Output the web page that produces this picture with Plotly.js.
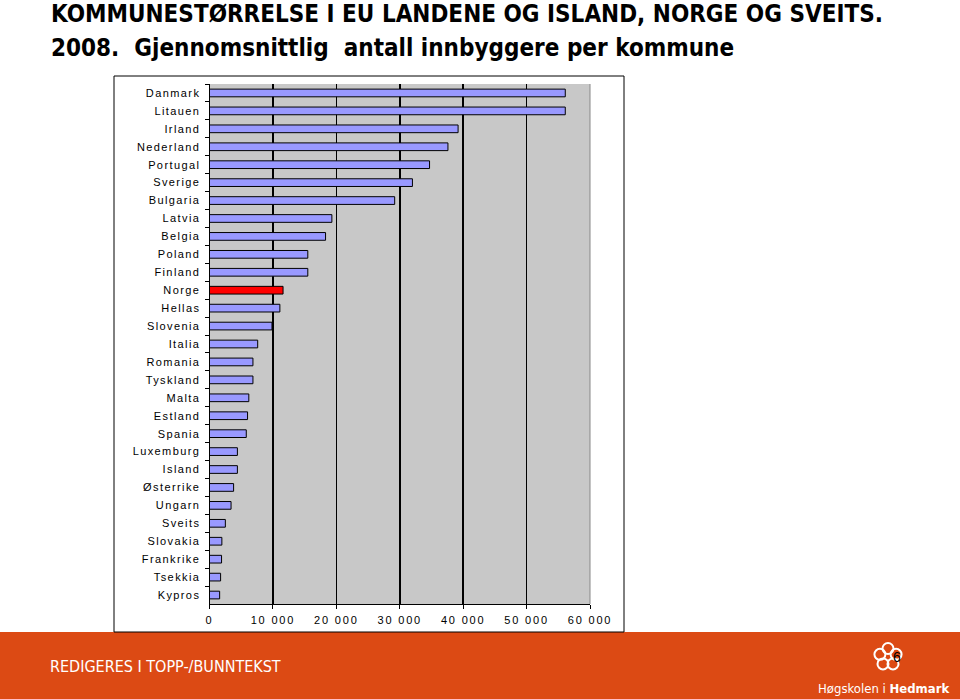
<!DOCTYPE html>
<html>
<head>
<meta charset="utf-8">
<script src="https://cdn.plot.ly/plotly-3.0.1.min.js"></script>
<style>
  html, body { margin: 0; padding: 0; background: #fff; }
  #chart { width: 960px; height: 699px; }
  /* the original Excel labels are widely spaced */
  #chart .ytick text { letter-spacing: 1.4px; }
  #chart .xtick text { letter-spacing: 1.8px; }
</style>
</head>
<body>
<div id="chart"></div>
<script>
// average inhabitants per municipality, 2008
const countries = ['Danmark', 'Litauen', 'Irland', 'Nederland', 'Portugal', 'Sverige', 'Bulgaria',
  'Latvia', 'Belgia', 'Poland', 'Finland', 'Norge', 'Hellas', 'Slovenia', 'Italia', 'Romania',
  'Tyskland', 'Malta', 'Estland', 'Spania', 'Luxemburg', 'Island', 'Østerrike', 'Ungarn',
  'Sveits', 'Slovakia', 'Frankrike', 'Tsekkia', 'Kypros'];
const inhabitants = [56100, 56100, 39200, 37600, 34700, 32000, 29200,
  19300, 18300, 15500, 15500, 11600, 11100, 9850, 7600, 6850,
  6850, 6200, 6000, 5800, 4400, 4400, 3800, 3400,
  2500, 1950, 1900, 1750, 1600];
const highlight = 'Norge';

const titleLine1 = 'KOMMUNESTØRRELSE I EU LANDENE OG ISLAND, NORGE OG SVEITS.';
const titleLine2 = '2008.&nbsp;&nbsp;Gjennomsnittlig&nbsp;&nbsp;antall innbyggere per kommune';
const footerText = 'REDIGERES I TOPP-/BUNNTEKST';
const pageNumber = '6';

const W = 960, H = 699;
const px = x => x / W;
const py = y => 1 - y / H;

const barColors = countries.map(c => c === highlight ? '#ff0000' : '#9999ff');

const trace = {
  type: 'bar',
  orientation: 'h',
  x: inhabitants,
  y: countries,
  marker: { color: barColors, line: { color: '#000', width: 1 } },
  hoverinfo: 'x+y'
};

const narrow = '"Liberation Sans Narrow", "DejaVu Sans Condensed", "Arial Narrow", sans-serif';

// logo petals
const logoShapes = [];
const cx = 888, cy = 657;
for (let i = 0; i < 5; i++) {
  const a = -Math.PI / 2 + i * 2 * Math.PI / 5;
  const x = cx + 8.5 * Math.cos(a), y = cy + 8.5 * Math.sin(a);
  logoShapes.push({
    type: 'circle', xref: 'paper', yref: 'paper', layer: 'above',
    x0: px(x - 5.5), x1: px(x + 5.5), y0: py(y + 5.5), y1: py(y - 5.5),
    line: { color: '#fff', width: 2 }, fillcolor: 'rgba(0,0,0,0)'
  });
}

const layout = {
  width: W,
  height: H,
  margin: { l: 0, r: 0, t: 0, b: 0 },
  paper_bgcolor: '#fff',
  plot_bgcolor: '#c8c8c8',
  separators: ', ',
  showlegend: false,
  bargap: 0.57,
  font: { family: '"Liberation Sans", Arial, sans-serif', size: 11, color: '#000' },
  xaxis: {
    domain: [px(209.5), px(590)],
    range: [0, 60000],
    dtick: 10000,
    tickformat: ',',
    showgrid: true,
    gridcolor: '#000',
    gridwidth: 1.6,
    zeroline: false,
    showline: true,
    linecolor: '#000',
    linewidth: 1,
    ticks: 'outside',
    ticklen: 4,
    tickcolor: '#000',
    ticklabelstandoff: 2,
    tickfont: { size: 11 },
    fixedrange: true
  },
  yaxis: {
    domain: [py(604), py(84)],
    type: 'category',
    categoryorder: 'array',
    categoryarray: countries,
    autorange: 'reversed',
    showgrid: false,
    showline: true,
    linecolor: '#000',
    linewidth: 1,
    ticks: 'outside',
    tickson: 'boundaries',
    ticklen: 4,
    tickcolor: '#000',
    ticklabelstandoff: 6,
    tickfont: { size: 11 },
    fixedrange: true
  },
  shapes: [
    // footer band
    { type: 'rect', xref: 'paper', yref: 'paper', layer: 'below',
      x0: 0, x1: 1, y0: 0, y1: py(632), line: { width: 0 }, fillcolor: '#dc4a14' },
    // chart frame
    { type: 'rect', xref: 'paper', yref: 'paper', layer: 'above',
      x0: px(114), x1: px(624), y0: py(632), y1: py(76),
      line: { color: '#000', width: 1 }, fillcolor: 'rgba(0,0,0,0)' },
    // right edge of the plot area
    { type: 'line', xref: 'paper', yref: 'paper', layer: 'above',
      x0: px(590), x1: px(590), y0: py(604), y1: py(84),
      line: { color: '#888', width: 1 } },
    ...logoShapes
  ],
  annotations: [
    { text: '<b>' + titleLine1 + '</b>', xref: 'paper', yref: 'paper',
      x: px(49), y: py(14), xanchor: 'left', yanchor: 'middle', showarrow: false,
      font: { family: narrow, size: 24, color: '#000' } },
    { text: '<b>' + titleLine2 + '</b>', xref: 'paper', yref: 'paper',
      x: px(49), y: py(48), xanchor: 'left', yanchor: 'middle', showarrow: false,
      font: { family: narrow, size: 24, color: '#000' } },
    { text: footerText, xref: 'paper', yref: 'paper',
      x: px(48), y: py(666), xanchor: 'left', yanchor: 'middle', showarrow: false,
      font: { family: narrow, size: 16, color: '#fff' } },
    { text: pageNumber, xref: 'paper', yref: 'paper',
      x: px(897), y: py(657), xanchor: 'center', yanchor: 'middle', showarrow: false,
      font: { family: '"Liberation Sans", Arial, sans-serif', size: 14, color: '#000' } },
    { text: 'Høgskolen i <b>Hedmark</b>', xref: 'paper', yref: 'paper',
      x: px(951), y: py(688), xanchor: 'right', yanchor: 'middle', showarrow: false,
      font: { family: narrow, size: 13, color: '#fff' } }
  ]
};

Plotly.newPlot('chart', [trace], layout, { displayModeBar: false, staticPlot: true });
</script>
</body>
</html>
